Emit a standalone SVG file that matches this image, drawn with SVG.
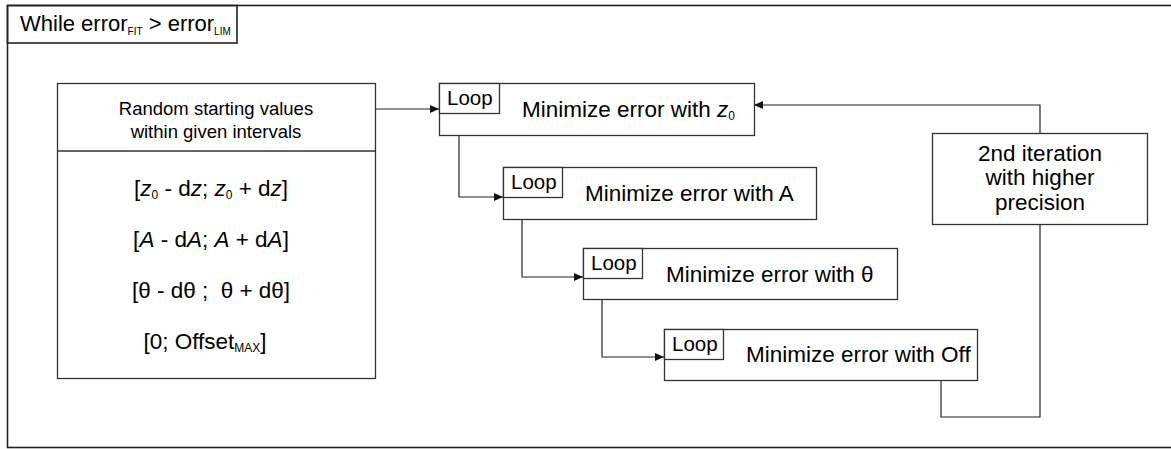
<svg xmlns="http://www.w3.org/2000/svg" width="1171" height="449" viewBox="0 0 1171 449">
<style>
  .box{fill:#fff;stroke:#333;stroke-width:1.3}
  .frame{fill:none;stroke:#222;stroke-width:1.6}
  .t{font-family:"Liberation Sans",Arial,sans-serif;fill:#000}
  .main{font-size:22.5px}
  .title{font-size:22px}
  .loop{font-size:20.5px}
  .left{font-size:18.5px;text-anchor:middle}
  .iv{font-size:22.5px;text-anchor:middle}
  .sub{font-size:10px}
  .sub2{font-size:12px}
  .conn{fill:none;stroke:#222;stroke-width:1.2}
</style>
<defs>
  <marker id="arr" markerWidth="10" markerHeight="8" refX="9" refY="4" orient="auto" markerUnits="userSpaceOnUse">
    <path d="M0,0 L9,4 L0,8 z" fill="#111"/>
  </marker>
</defs>
<rect width="1171" height="449" fill="#fff"/>
<g id="frame">
  <rect class="frame" x="7.5" y="5.5" width="1180" height="442"/>
  <rect class="frame" x="7.5" y="5.5" width="229.5" height="37.5"/>
  <text class="t title" x="20" y="31">While error<tspan class="sub" dy="4">FIT</tspan><tspan dy="-4"> &gt; error</tspan><tspan class="sub" dy="4">LIM</tspan></text>
</g>
<g id="connectors">
  <path class="conn" d="M375,109 H439" marker-end="url(#arr)"/>
  <path class="conn" d="M459,135 V197 H503" marker-end="url(#arr)"/>
  <path class="conn" d="M522,219 V277 H583" marker-end="url(#arr)"/>
  <path class="conn" d="M602,299 V357 H664" marker-end="url(#arr)"/>
  <path class="conn" d="M941,381 V417 H1040 V224"/>
  <path class="conn" d="M1040,133 V105 H754" marker-end="url(#arr)"/>
</g>
<g id="start-values">
  <rect class="box" x="57.5" y="83.5" width="318" height="295"/>
  <line x1="57.5" y1="151" x2="375.5" y2="151" stroke="#333" stroke-width="1.3"/>
  <text class="t left" x="216" y="115">Random starting values</text>
  <text class="t left" x="216" y="138">within given intervals</text>
  <text class="t iv" x="211" y="196">[<tspan font-style="italic">z</tspan><tspan class="sub2" dy="3">0</tspan><tspan dy="-3"> - d</tspan><tspan font-style="italic">z</tspan>; <tspan font-style="italic">z</tspan><tspan class="sub2" dy="3">0</tspan><tspan dy="-3"> + d</tspan><tspan font-style="italic">z</tspan>]</text>
  <text class="t iv" x="211" y="247">[<tspan font-style="italic">A</tspan> - d<tspan font-style="italic">A</tspan>; <tspan font-style="italic">A</tspan> + d<tspan font-style="italic">A</tspan>]</text>
  <text class="t iv" x="211" y="298" xml:space="preserve">[θ - dθ ;  θ + dθ]</text>
  <text class="t iv" x="205" y="349">[0; Offset<tspan class="sub2" dy="3">MAX</tspan><tspan dy="-3">]</tspan></text>
</g>
<g id="loop-z0">
  <rect class="box" x="439.5" y="83.5" width="315" height="52"/>
  <rect class="box" x="439.5" y="83.5" width="60" height="30"/>
  <text class="t loop" x="447" y="105">Loop</text>
  <text class="t main" x="522" y="117">Minimize error with <tspan font-style="italic">z</tspan><tspan class="sub2" dy="3">0</tspan></text>
</g>
<g id="loop-A">
  <rect class="box" x="503.5" y="167.5" width="313" height="52"/>
  <rect class="box" x="503.5" y="167.5" width="59" height="30"/>
  <text class="t loop" x="511" y="189">Loop</text>
  <text class="t main" x="585" y="201">Minimize error with A</text>
</g>
<g id="loop-theta">
  <rect class="box" x="583.5" y="248.5" width="314" height="51"/>
  <rect class="box" x="583.5" y="248.5" width="59" height="30"/>
  <text class="t loop" x="591" y="270">Loop</text>
  <text class="t main" x="666" y="282">Minimize error with θ</text>
</g>
<g id="loop-off">
  <rect class="box" x="664.5" y="329.5" width="313" height="51"/>
  <rect class="box" x="664.5" y="329.5" width="59" height="30"/>
  <text class="t loop" x="672" y="351">Loop</text>
  <text class="t main" x="746" y="362">Minimize error with Off</text>
</g>
<g id="second-iteration">
  <rect class="box" x="932.5" y="133.5" width="215" height="91"/>
  <text class="t main" x="1040" y="161" text-anchor="middle">2nd iteration</text>
  <text class="t main" x="1040" y="185" text-anchor="middle">with higher</text>
  <text class="t main" x="1040" y="210" text-anchor="middle">precision</text>
</g>
</svg>
